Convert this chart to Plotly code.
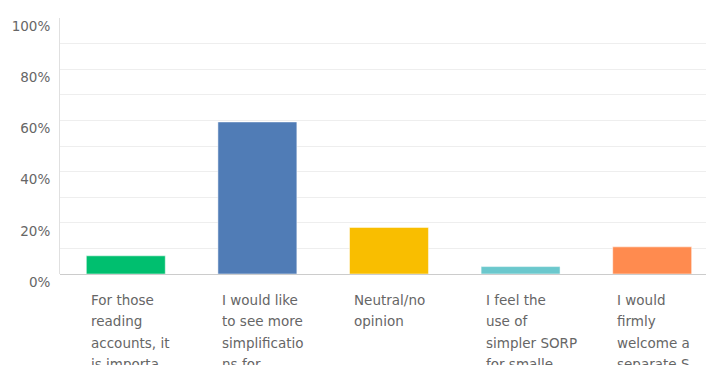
import plotly.graph_objects as go

# Survey answer options (shown as wrapped, truncated labels under each bar)
label_lines = [
    ["For those", "reading", "accounts, it", "is importa..."],
    ["I would like", "to see more", "simplificatio", "ns for..."],
    ["Neutral/no", "opinion"],
    ["I feel the", "use of", "simpler SORP", "for smalle..."],
    ["I would", "firmly", "welcome a", "separate S..."],
]
categories = ["opt1", "opt2", "opt3", "opt4", "opt5"]
percent = [7.1, 59.4, 18.2, 2.9, 10.6]
bar_colors = ["#00BF6F", "#507CB6", "#F9BE00", "#6BC8CD", "#FF8B4F"]
y_ticks = [0, 20, 40, 60, 80, 100]
y_tick_text = ["0%", "20%", "40%", "60%", "80%", "100%"]

FONT = "DejaVu Sans"
TEXT_COLOR = "#666666"

fig = go.Figure()
fig.add_trace(go.Bar(
    x=list(range(len(categories))),
    y=percent,
    width=0.6,
    marker=dict(color=bar_colors, line=dict(color="rgba(255,255,255,0.5)", width=1)),
    hoverinfo="skip",
))

# Left-aligned multi-line category labels, one annotation per line
LINE_H = 21.4
for i, lines in enumerate(label_lines):
    for j, line in enumerate(lines):
        fig.add_annotation(
            x=i, y=0, xref="x", yref="y",
            text=line, showarrow=False,
            xanchor="left", yanchor="top",
            xshift=-37, yshift=-16 - j * LINE_H,
            font=dict(family=FONT, size=13.5, color=TEXT_COLOR),
        )

fig.update_layout(
    width=706, height=365,
    margin=dict(l=60, r=0, t=18, b=91),
    plot_bgcolor="white", paper_bgcolor="white",
    showlegend=False,
    bargap=0.4,
    xaxis=dict(
        range=[-0.5, 4.409],
        showticklabels=False, showgrid=False, zeroline=False,
        showline=False, fixedrange=True,
    ),
    yaxis=dict(
        range=[0, 100],
        tickvals=y_ticks, ticktext=y_tick_text,
        showgrid=True, gridcolor="#eeeeee", gridwidth=1,
        minor=dict(dtick=10, showgrid=True, gridcolor="#eeeeee", gridwidth=1),
        zeroline=True, zerolinecolor="#cccccc", zerolinewidth=1,
        showline=True, linecolor="#e0e0e0", linewidth=1,
        ticklabelstandoff=6, ticklabelshift=8,
        tickfont=dict(family=FONT, size=13.5, color=TEXT_COLOR),
        fixedrange=True,
    ),
)

fig.write_html("out.html")
